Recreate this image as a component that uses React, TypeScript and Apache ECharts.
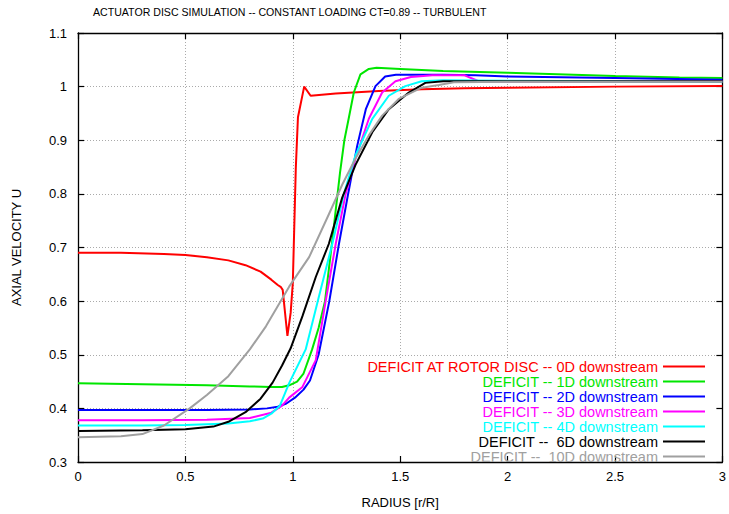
import React, { useEffect, useRef } from "react";
import * as echarts from "echarts";

const titleText = "ACTUATOR DISC SIMULATION -- CONSTANT LOADING CT=0.89 -- TURBULENT";
const xAxisName = "RADIUS [r/R]";
const yAxisName = "AXIAL VELOCITY U";

const seriesNames = [
  "DEFICIT AT ROTOR DISC -- 0D downstream",
  "DEFICIT -- 1D downstream",
  "DEFICIT -- 2D downstream",
  "DEFICIT -- 3D downstream",
  "DEFICIT -- 4D downstream",
  "DEFICIT --  6D downstream",
  "DEFICIT --  10D downstream",
];
const seriesColors = ["#ff0000", "#00e600", "#0000ff", "#ff00ff", "#00ffff", "#000000", "#a0a0a0"];

const r0D = [0, 0.2, 0.4, 0.5, 0.6, 0.7, 0.78, 0.85, 0.9, 0.93, 0.945, 0.953, 0.975, 0.99, 1.0, 1.014, 1.024, 1.053, 1.083, 1.2, 1.4, 1.6, 1.8, 2.0, 2.5, 3.0];
const u0D = [0.690, 0.690, 0.688, 0.686, 0.682, 0.676, 0.667, 0.655, 0.640, 0.630, 0.626, 0.621, 0.535, 0.578, 0.633, 0.848, 0.943, 1.000, 0.983, 0.987, 0.992, 0.995, 0.997, 0.998, 1.000, 1.001];

const r1D = [0, 0.3, 0.6, 0.8, 0.9, 0.95, 0.983, 1.02, 1.05, 1.09, 1.12, 1.15, 1.18, 1.2, 1.22, 1.24, 1.26, 1.284, 1.315, 1.354, 1.39, 1.5, 1.7, 2.0, 2.5, 2.8, 3.0];
const u1D = [0.447, 0.445, 0.443, 0.441, 0.440, 0.440, 0.443, 0.450, 0.465, 0.510, 0.550, 0.600, 0.700, 0.770, 0.840, 0.900, 0.940, 0.989, 1.023, 1.033, 1.035, 1.033, 1.029, 1.026, 1.020, 1.017, 1.016];

const r2D = [0, 0.3, 0.6, 0.8, 0.88, 0.93, 0.97, 1.01, 1.05, 1.08, 1.12, 1.17, 1.215, 1.26, 1.3, 1.34, 1.385, 1.43, 1.48, 1.7, 1.85, 2.0, 2.5, 3.0];
const u2D = [0.397, 0.397, 0.397, 0.398, 0.400, 0.403, 0.409, 0.420, 0.435, 0.452, 0.500, 0.600, 0.707, 0.805, 0.890, 0.958, 1.001, 1.019, 1.022, 1.022, 1.021, 1.019, 1.016, 1.013];

const r3D = [0, 0.3, 0.6, 0.8, 0.9, 0.95, 0.983, 1.045, 1.107, 1.153, 1.2, 1.246, 1.292, 1.354, 1.416, 1.478, 1.55, 1.65, 1.8, 1.86, 1.9, 2.5, 3.0];
const u3D = [0.378, 0.378, 0.379, 0.382, 0.392, 0.405, 0.420, 0.440, 0.490, 0.600, 0.707, 0.800, 0.866, 0.940, 0.989, 1.010, 1.018, 1.021, 1.021, 1.011, 1.010, 1.010, 1.010];

const r4D = [0, 0.3, 0.5, 0.7, 0.8, 0.86, 0.9, 0.94, 0.983, 1.06, 1.122, 1.184, 1.238, 1.292, 1.37, 1.447, 1.524, 1.6, 1.7, 2.0, 2.5, 3.0];
const u4D = [0.368, 0.368, 0.369, 0.372, 0.376, 0.381, 0.390, 0.405, 0.447, 0.510, 0.609, 0.707, 0.800, 0.872, 0.940, 0.983, 1.001, 1.010, 1.012, 1.011, 1.010, 1.009];

const r6D = [0, 0.3, 0.5, 0.63, 0.7, 0.78, 0.85, 0.906, 0.95, 0.99, 1.045, 1.107, 1.168, 1.23, 1.292, 1.37, 1.447, 1.54, 1.617, 1.7, 2.0, 2.5, 3.0];
const u6D = [0.358, 0.359, 0.361, 0.366, 0.375, 0.393, 0.418, 0.448, 0.480, 0.512, 0.572, 0.645, 0.707, 0.793, 0.854, 0.915, 0.958, 0.989, 1.007, 1.010, 1.010, 1.010, 1.010];

const r10D = [0, 0.1, 0.2, 0.3, 0.4, 0.52, 0.6, 0.7, 0.8, 0.875, 0.983, 1.076, 1.168, 1.23, 1.292, 1.354, 1.416, 1.493, 1.6, 1.68, 1.75, 2.0, 2.5, 3.0];
const u10D = [0.346, 0.347, 0.348, 0.352, 0.368, 0.400, 0.425, 0.460, 0.510, 0.553, 0.627, 0.682, 0.762, 0.817, 0.866, 0.909, 0.946, 0.977, 0.998, 1.003, 1.008, 1.009, 1.009, 1.009];

const radii = [r0D, r1D, r2D, r3D, r4D, r6D, r10D];
const velocities = [u0D, u1D, u2D, u3D, u4D, u6D, u10D];

const FONT = "'Liberation Sans', Arial, Helvetica, sans-serif";

export default function App() {
  const ref = useRef<HTMLDivElement>(null);
  useEffect(() => {
    if (!ref.current) return;
    const chart = echarts.init(ref.current, null, { renderer: "svg" });
    const xBase = { type: "value" as const, min: 0, max: 3, interval: 0.5, gridIndex: 0 };
    const yBase = { type: "value" as const, min: 0.3, max: 1.1, interval: 0.1, gridIndex: 0 };
    const frameLine = { show: true, onZero: false, lineStyle: { color: "#000", width: 1.3 } };
    const tick = { show: true, inside: true, length: 6, lineStyle: { color: "#000", width: 1.2 } };
    chart.setOption({
      animation: false,
      backgroundColor: "#fff",
      title: {
        text: titleText,
        left: 93,
        top: 6,
        padding: 0,
        textStyle: { fontFamily: FONT, fontSize: 10.6, fontWeight: "normal", color: "#000" },
      },
      grid: { left: 78, right: 4, top: 33, bottom: 46, containLabel: false },
      xAxis: [
        {
          ...xBase,
          position: "bottom",
          z: 3,
          axisLine: frameLine,
          axisTick: tick,
          axisLabel: { color: "#000", fontSize: 13, fontFamily: FONT, margin: 8 },
          splitLine: { show: false },
          name: xAxisName,
          nameLocation: "middle",
          nameGap: 34,
          nameTextStyle: { color: "#000", fontSize: 13, fontFamily: FONT },
        },
        {
          ...xBase,
          position: "top",
          z: 3,
          axisLine: frameLine,
          axisTick: tick,
          axisLabel: { show: false },
          splitLine: { show: false },
        },
        {
          ...xBase,
          position: "bottom",
          z: 0,
          axisLine: { show: false },
          axisTick: { show: false },
          axisLabel: { show: false },
          splitLine: { show: true, lineStyle: { color: "#aaa", width: 1, type: [1, 2] } },
        },
      ],
      yAxis: [
        {
          ...yBase,
          position: "left",
          z: 3,
          axisLine: frameLine,
          axisTick: tick,
          axisLabel: { color: "#000", fontSize: 13, fontFamily: FONT, margin: 11 },
          splitLine: { show: false },
          name: yAxisName,
          nameLocation: "middle",
          nameGap: 55,
          nameRotate: 90,
          nameTextStyle: { color: "#000", fontSize: 13, fontFamily: FONT },
        },
        {
          ...yBase,
          position: "right",
          z: 3,
          axisLine: frameLine,
          axisTick: tick,
          axisLabel: { show: false },
          splitLine: { show: false },
        },
        {
          ...yBase,
          position: "left",
          z: 0,
          axisLine: { show: false },
          axisTick: { show: false },
          axisLabel: { show: false },
          splitLine: { show: true, lineStyle: { color: "#aaa", width: 1, type: [1, 2] } },
        },
      ],
      graphic: [
        {
          type: "rect",
          z: 1,
          shape: { x: 329, y: 360, width: 395, height: 107 },
          style: { fill: "#fff" },
          silent: true,
        },
      ],
      legend: {
        orient: "vertical",
        right: 23,
        top: 359,
        padding: 0,
        align: "right",
        itemWidth: 42,
        itemHeight: 14,
        itemGap: 0,
        selectedMode: false,
        itemStyle: { opacity: 0 },
        textStyle: { fontSize: 14.5, fontFamily: FONT, lineHeight: 14 },
        data: seriesNames.map((n, i) => ({ name: n, textStyle: { color: seriesColors[i] } })),
      },
      series: seriesNames.map((n, i) => ({
        name: n,
        type: "line",
        xAxisIndex: 0,
        yAxisIndex: 0,
        symbol: "none",
        showSymbol: false,
        color: seriesColors[i],
        lineStyle: { color: seriesColors[i], width: 2 },
        data: radii[i].map((r, k) => [r, velocities[i][k]]),
      })),
    });
    return () => chart.dispose();
  }, []);
  return <div ref={ref} style={{ position: "fixed", left: 0, top: 0, width: 729, height: 514 }} />;
}
